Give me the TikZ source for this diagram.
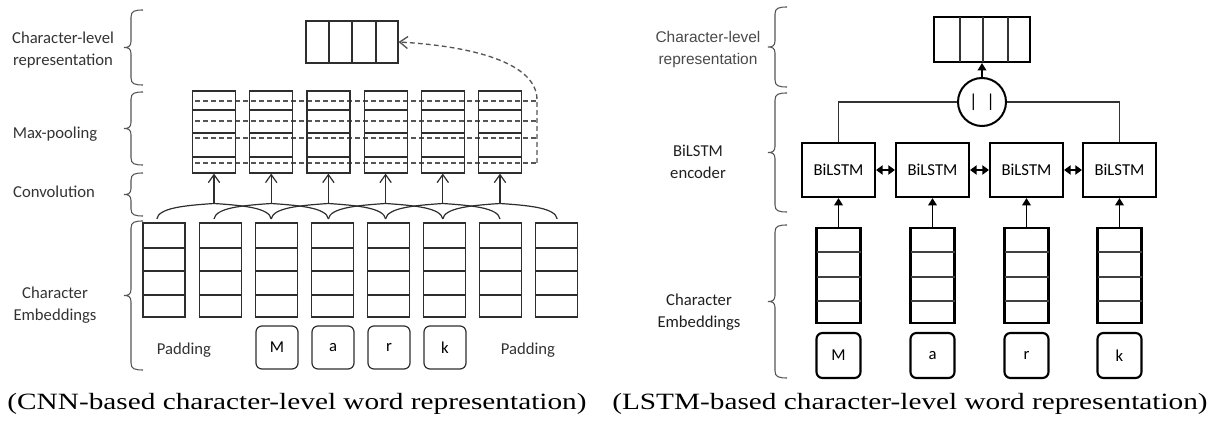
\documentclass[tikz,border=0pt]{standalone}
\usepackage{graphicx}
\usepackage{fontspec}
\setmainfont{Carlito}
\newfontfamily\capfont{Liberation Serif}
\newfontfamily\arialfont{Liberation Sans}
\usetikzlibrary{arrows.meta}
\definecolor{lbl}{HTML}{333333}
\definecolor{brc}{HTML}{555555}
\definecolor{lgrey}{HTML}{2E2E2E}
\definecolor{rlbl}{HTML}{4A4A4A}
\newcommand{\vbr}[3]{% right x, top y, bottom y
  \draw[brc,line width=0.8pt] (#1,#2) .. controls (#1-8,#2) and (#1-12,#2+1) .. (#1-12,#2+7)
    -- (#1-12,{(#2+#3)/2-6}) .. controls (#1-12,{(#2+#3)/2-1}) and (#1-15,{(#2+#3)/2}) .. (#1-19,{(#2+#3)/2})
    .. controls (#1-15,{(#2+#3)/2}) and (#1-12,{(#2+#3)/2+1}) .. (#1-12,{(#2+#3)/2+6})
    -- (#1-12,#3-7) .. controls (#1-12,#3-1) and (#1-8,#3) .. (#1,#3);}
\newcommand{\captext}[1]{\scalebox{1.255}[1]{#1}}
\tikzset{
  lab/.style={font=\fontsize{12.5}{16.5}\selectfont, text=lbl, align=center, inner sep=0pt},
  rlab/.style={font=\fontsize{12.5}{16.5}\selectfont, text=black!88, align=center, inner sep=0pt},
  pool/.style={draw=lgrey, line width=0.9pt, minimum width=32.25pt, minimum height=61.5pt, inner sep=0pt},
  emb/.style={draw=lgrey, line width=0.9pt, minimum width=31.5pt, minimum height=70.5pt, inner sep=0pt},
  chr/.style={draw=lgrey, line width=0.9pt, rounded corners=4.5pt, minimum width=31.5pt, minimum height=32.25pt, inner sep=0pt, font=\fontsize{12.5}{15}\selectfont},
  bbox/.style={draw=black, line width=1.6pt, minimum width=54.75pt, minimum height=40.5pt, inner sep=0pt, font=\fontsize{12.5}{15}\selectfont},
  remb/.style={draw=black, line width=1.6pt, minimum width=33pt, minimum height=71.25pt, inner sep=0pt},
  rchr/.style={draw=black, line width=1.6pt, rounded corners=4.5pt, minimum width=33pt, minimum height=33.75pt, inner sep=0pt, font=\fontsize{12.5}{15}\selectfont},
  upv/.style={-{Straight Barb[length=6pt,width=8.5pt]}, draw=lgrey, line width=0.9pt},
  upt/.style={-{Triangle[length=5.5pt,width=6.5pt]}, line width=1pt},
  dbl/.style={{Triangle[length=5pt,width=7pt]}-{Triangle[length=5pt,width=7pt]}, line width=1.2pt},
  dsh/.style={draw=brc, line width=1pt, dash pattern=on 3.6pt off 2.4pt},
  capt/.style={font=\capfont\fontsize{17.5}{20}\selectfont, inner sep=0pt, anchor=base}
}
\begin{document}
\begin{tikzpicture}[x=0.75pt,y=-0.75pt]
\useasboundingbox (0,0) rectangle (1215,424);
% ================= LEFT (CNN) =================
\vbr{143}{10}{85}
\vbr{143}{92}{165}
\vbr{143}{173}{216}
\vbr{143}{221}{370}
\node[lab] (lt1) at (63,50) {Character-level\\representation};
\node[lab] (lt2) at (55,134) {Max-pooling};
\node[lab] (lt3) at (54,192) {Convolution};
\node[lab] (lt4) at (55,305) {Character\\Embeddings};
% top representation
\node[draw=lgrey, line width=0.9pt, minimum width=69pt, minimum height=31.5pt, inner sep=0pt] (rep) at (352,42) {};
\foreach \xx in {329,352,376} \draw[lgrey, line width=0.9pt] (\xx,21) -- (\xx,63);
% dashed max lines
\foreach \yy in {101,121,138,163} \draw[dsh] (195,\yy) -- (537,\yy);
% pooling boxes
\foreach \i in {0,...,5} {
  \pgfmathsetmacro{\px}{214+57.2*\i}
  \node[pool] (pool\i) at (\px,132) {};
  \foreach \yy in {110,133,157} \draw[lgrey, line width=0.9pt] (\px-21.5,\yy) -- (\px+21.5,\yy);
  \coordinate (tip\i) at (\px,203.5);
  \draw[upv] (tip\i) -- (pool\i.south);
  \draw[lgrey, line width=0.9pt] (\px-57.2,219) .. controls (\px-55.5,208) and (\px-30,205.5) .. (tip\i)
     .. controls (\px+30,205.5) and (\px+55.5,208) .. (\px+57.2,219);
}
\coordinate (dstart) at (537,163);
\draw[dsh, -{Straight Barb[length=6pt,width=9pt]}] (dstart) -- (537,100) .. controls (537,62) and (470,46) .. (rep.east);
% embeddings
\foreach \j in {0,...,7} {
  \pgfmathsetmacro{\cx}{164+56.1*\j}
  \node[emb] (emb\j) at (\cx,270) {};
  \foreach \yy in {248,271,295} \draw[lgrey, line width=0.9pt] (\cx-21,\yy) -- (\cx+21,\yy);
}
\node[chr] (cM) at (277,347.5) {M};
\node[chr] (ca) at (333,347.5) {a};
\node[chr] (cr) at (389,347.5) {r};
\node[chr] (ck) at (445,347.5) {k};
\node[lab] (pad1) at (184,350) {Padding};
\node[lab] (pad2) at (528,350) {Padding};
\node[capt] (cap1) at (297,409) {\captext{(CNN-based character-level word representation)}};
% ================= RIGHT (LSTM) =================
\vbr{787}{7}{87}
\vbr{787}{93}{212}
\vbr{787}{225}{378}
\node[font=\arialfont\fontsize{11.6}{16.5}\selectfont, text=rlbl, align=center, inner sep=0pt] (rt1) at (708,50) {Character-level\\representation};
\node[rlab] (rt2) at (698,162) {BiLSTM\\encoder};
\node[rlab] (rt3) at (699,312) {Character\\Embeddings};
\node[draw=black, line width=1.6pt, minimum width=72pt, minimum height=33.75pt, inner sep=0pt] (rrep) at (982,39.5) {};
\foreach \xx in {960,983,1008} \draw[black!80, line width=0.8pt] (\xx,17) -- (\xx,62);
\node[draw=black, line width=1.5pt, circle, minimum size=36pt, inner sep=0pt, font=\fontsize{14}{14}\selectfont] (conc) at (982,102) {|\hspace{6.5pt}|};
\draw[upt] (conc.north) -- (rrep.south);
\node[bbox] (b0) at (838.5,170) {BiLSTM};
\node[bbox] (b1) at (932.5,170) {BiLSTM};
\node[bbox] (b2) at (1026.5,170) {BiLSTM};
\node[bbox] (b3) at (1119.5,170) {BiLSTM};
\draw[black!80, line width=0.9pt] (b0.north) |- (conc.west);
\draw[black!80, line width=0.9pt] (b3.north) |- (conc.east);
\draw[dbl] (b0.east) -- (b1.west);
\draw[dbl] (b1.east) -- (b2.west);
\draw[dbl] (b2.east) -- (b3.west);
\foreach \k/\cx/\ch in {0/838.5/M,1/932.5/a,2/1026.5/r,3/1119.5/k} {
  \node[remb] (re\k) at (\cx,275.5) {};
  \foreach \yy in {252,277,301} \draw[black!75, line width=0.8pt] (\cx-22,\yy) -- (\cx+22,\yy);
  \draw[upt] (re\k.north) -- (b\k.south);
  \node[rchr] (rc\k) at (\cx,355.5) {\ch};
}
\node[capt] (cap2) at (910,409) {\captext{(LSTM-based character-level word representation)}};
\end{tikzpicture}
\end{document}
